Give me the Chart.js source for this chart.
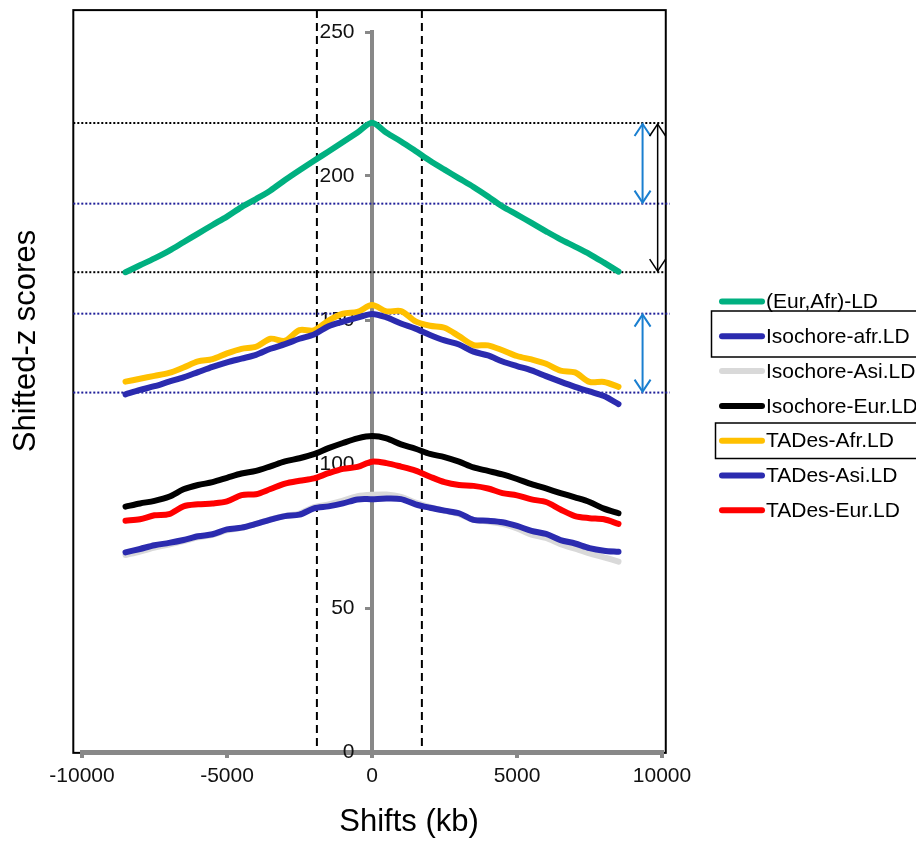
<!DOCTYPE html>
<html><head><meta charset="utf-8">
<script src="https://cdn.jsdelivr.net/npm/chart.js@4.4.1/dist/chart.umd.min.js"></script>
<style>html,body{margin:0;padding:0;background:#fff;}#wrap{width:916px;height:843px;position:relative;}</style>
</head><body><div id="wrap"><canvas id="c" width="916" height="843"></canvas></div>
<script>
// ---- data ----
const shifts = [-8500,-8000,-7500,-7000,-6500,-6000,-5500,-5000,-4500,-4000,-3500,-3000,-2500,-2000,-1500,-1000,-500,0,
  500,1000,1500,2000,2500,3000,3500,4000,4500,5000,5500,6000,6500,7000,7500,8000,8500];
const eurAfrLD = [166.6,169.0,171.4,174.0,177.0,180.0,183.0,185.9,189.2,192.0,195.0,198.6,202.0,205.3,208.5,211.8,215.1,218.5,
  215.0,212.0,208.7,205.3,202.2,199.2,196.2,192.9,189.4,186.6,183.7,180.8,178.0,175.5,172.9,169.9,166.8];
const isochoreAfrLD = [124.2,125.7,127.0,128.6,130.1,131.9,133.7,135.3,136.6,137.9,140.0,141.6,143.5,145.0,147.8,149.4,150.8,152.1,
  150.9,148.8,147.0,144.8,142.9,141.5,139.0,137.7,135.6,134.0,132.5,130.5,128.6,126.8,125.2,123.6,120.8];
const isochoreAsiLD = [68.4,69.6,71.0,72.0,73.2,74.5,75.4,77.0,77.8,79.2,80.8,82.0,82.8,85.0,86.0,87.3,88.8,89.3,
  89.4,88.6,86.6,85.0,83.8,82.6,80.6,80.0,79.2,77.6,75.5,74.3,72.2,70.6,69.0,67.6,66.1];
const isochoreEurLD = [85.2,86.3,87.2,88.6,91.2,92.7,93.7,95.2,96.7,97.6,99.2,100.9,102.0,103.4,105.5,107.3,108.9,109.7,
  108.9,106.8,105.3,103.5,102.4,100.8,98.8,97.6,96.4,94.8,93.0,91.5,89.9,88.4,86.8,84.5,82.9];
const tadesAfrLD = [128.6,129.6,130.6,131.6,133.5,135.6,136.4,138.4,140.0,140.7,143.5,142.8,146.5,146.4,149.8,152.2,152.8,155.2,
  153.0,153.1,149.5,148.0,147.3,144.4,141.3,141.2,139.5,137.5,136.3,134.8,132.4,131.8,128.5,128.5,126.8];
const tadesAsiLD = [69.3,70.5,71.8,72.6,73.6,74.9,75.6,77.3,77.9,79.2,80.7,81.9,82.4,84.6,85.3,86.3,87.7,87.8,
  88.0,87.8,86.0,84.8,83.8,82.9,80.6,80.3,79.8,78.5,76.8,75.7,73.6,72.4,70.8,69.9,69.5];
const tadesEurLD = [80.3,80.8,82.2,82.6,85.3,86.0,86.3,87.0,89.2,89.5,91.3,93.2,94.2,95.0,96.8,98.3,99.0,100.8,
  100.3,99.1,97.7,95.6,93.7,92.7,92.4,91.5,89.9,89.1,87.7,86.8,84.2,81.9,81.2,80.8,79.2];
const seriesNames = ['(Eur,Afr)-LD','Isochore-afr.LD','Isochore-Asi.LD','Isochore-Eur.LD','TADes-Afr.LD','TADes-Asi.LD','TADes-Eur.LD'];
const xTicks = [-10000,-5000,0,5000,10000];
const yTicks = [0,50,100,150,200,250];

// ---- annotation positions (data units) ----
const peakLevels = [218.4,166.6];          // black dotted
const refLevels = [190.4,152.2,124.8];    // blue dotted
const windowEdges = [-1900,1720];         // black dashed verticals
const frameX = [-10300,10130], frameY = [-0.3,257.6];

const colors = ['#00B080','#2B2BAF','#D9D9D9','#000000','#FFC000','#2B2BAF','#FF0000'];
const valuesList = [eurAfrLD,isochoreAfrLD,isochoreAsiLD,isochoreEurLD,tadesAfrLD,tadesAsiLD,tadesEurLD];
const orders = [0,0,5,0,0,1,0];

const FONT = "'Liberation Sans', Arial, sans-serif";

const datasets = seriesNames.map((n,i)=>({
  label:n,
  data: shifts.map((x,k)=>({x:x,y:valuesList[i][k]})),
  borderColor:colors[i], backgroundColor:colors[i],
  borderWidth:6, pointRadius:0, tension:0.3, fill:false, order:orders[i],
  borderCapStyle:'round', borderJoinStyle:'round'
}));

const deco = {
  id:'deco',
  beforeDraw(chart){
    const {ctx, scales:{x,y}} = chart;
    ctx.save();
    ctx.fillStyle='#fff'; ctx.fillRect(0,0,chart.width,chart.height);
    const l=x.getPixelForValue(frameX[0]), r=x.getPixelForValue(frameX[1]);
    const t=y.getPixelForValue(frameY[1]), b=y.getPixelForValue(frameY[0]);
    ctx.strokeStyle='#000'; ctx.lineWidth=2;
    ctx.strokeRect(l,t,r-l,b-t);
    ctx.setLineDash([8,5]); ctx.lineWidth=2;
    windowEdges.forEach(v=>{
      const px=x.getPixelForValue(v);
      ctx.beginPath(); ctx.moveTo(px,t); ctx.lineTo(px,y.getPixelForValue(0)); ctx.stroke();
    });
    ctx.restore();
  },
  beforeDatasetsDraw(chart){
    const {ctx, scales:{x,y}} = chart;
    const l=x.getPixelForValue(frameX[0]), r=x.getPixelForValue(frameX[1]);
    ctx.save();
    ctx.setLineDash([2,2]); ctx.lineWidth=2;
    ctx.strokeStyle='#000';
    peakLevels.forEach(v=>{const py=y.getPixelForValue(v); ctx.beginPath(); ctx.moveTo(l,py); ctx.lineTo(r,py); ctx.stroke();});
    ctx.strokeStyle='#1F1F99';
    refLevels.forEach(v=>{const py=y.getPixelForValue(v); ctx.beginPath(); ctx.moveTo(l,py); ctx.lineTo(r+4,py); ctx.stroke();});
    ctx.restore();
  },
  afterDatasetsDraw(chart){
    const {ctx, scales:{x,y}} = chart;
    function arrow(xv,y1v,y2v,col,w){
      const px=x.getPixelForValue(xv), a=y.getPixelForValue(y1v), b=y.getPixelForValue(y2v);
      ctx.save(); ctx.strokeStyle=col; ctx.lineWidth=w; ctx.setLineDash([]);
      ctx.beginPath(); ctx.moveTo(px,a+1); ctx.lineTo(px,b-1); ctx.stroke();
      ctx.beginPath(); ctx.moveTo(px-8,a+13); ctx.lineTo(px,a+1); ctx.lineTo(px+8,a+13); ctx.stroke();
      ctx.beginPath(); ctx.moveTo(px-8,b-13); ctx.lineTo(px,b-1); ctx.lineTo(px+8,b-13); ctx.stroke();
      ctx.restore();
    }
    arrow(9330,peakLevels[0],refLevels[0],'#1A7FD0',2);
    arrow(9850,peakLevels[0],peakLevels[1],'#000',1.5);
    arrow(9330,refLevels[1],refLevels[2],'#1A7FD0',2);
  },
  afterDraw(chart){
    const {ctx} = chart;
    ctx.save();
    const rowY0=301.5, dy=34.8;
    ctx.font='21px '+FONT; ctx.textBaseline='middle'; ctx.textAlign='left';
    chart.data.datasets.forEach((d,i)=>{
      const yy=rowY0+i*dy;
      ctx.strokeStyle=d.borderColor; ctx.lineWidth=6; ctx.lineCap='round';
      ctx.beginPath(); ctx.moveTo(722,yy); ctx.lineTo(762,yy); ctx.stroke();
      ctx.fillStyle='#000'; ctx.fillText(d.label,766,yy+1);
    });
    ctx.strokeStyle='#000'; ctx.lineWidth=1.5; ctx.lineCap='butt';
    ctx.strokeRect(711.5,311,220,46);
    ctx.strokeRect(715.5,423,220,35.5);
    ctx.fillStyle='#000'; ctx.textAlign='center'; ctx.textBaseline='middle';
    ctx.font='31px '+FONT;
    ctx.fillText('Shifts (kb)',409,822);
    ctx.translate(26,341); ctx.rotate(-Math.PI/2);
    ctx.fillText('Shifted-z scores',0,0);
    ctx.restore();
  }
};

new Chart(document.getElementById('c'),{
  type:'line',
  data:{datasets},
  options:{
    responsive:false, animation:false, devicePixelRatio:1,
    layout:{padding:{top:32,left:82,right:254,bottom:0}},
    plugins:{legend:{display:false},tooltip:{enabled:false}},
    scales:{
      x:{type:'linear',position:'bottom',min:-10000,max:10000,
        afterBuildTicks:s=>{s.ticks=xTicks.map(v=>({value:v}));},
        afterFit:s=>{s.height=91;},
        ticks:{font:{family:FONT,size:21},color:'#111',padding:6,maxRotation:0,callback:v=>String(v)},
        grid:{drawOnChartArea:false,drawTicks:true,tickLength:6,color:'#888',lineWidth:4},
        border:{color:'#888',width:5}
      },
      y:{type:'linear',position:{x:0},min:0,max:250,
        afterBuildTicks:s=>{s.ticks=yTicks.map(v=>({value:v}));},
        afterFit:s=>{s.width=0;},
        ticks:{font:{family:FONT,size:21},color:'#111',callback:v=>String(v)+'   '},
        grid:{drawOnChartArea:false,drawTicks:true,tickLength:5,color:'#888',lineWidth:3},
        border:{color:'#888',width:4}
      }
    }
  },
  plugins:[deco]
});
</script></body></html>
